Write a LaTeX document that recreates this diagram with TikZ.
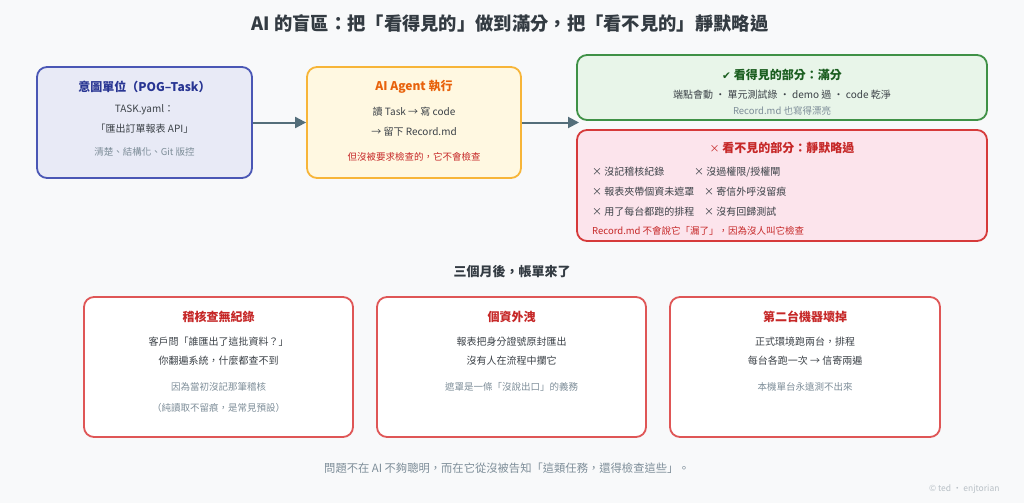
\documentclass[tikz,border=0pt]{standalone}
\usepackage{fontspec}
\setmainfont{Noto Sans CJK TC}
\newfontfamily\symfont{DejaVu Sans}
\usetikzlibrary{arrows.meta}
\definecolor{bg}{HTML}{F8F9FA}
\definecolor{ink}{HTML}{333B42}
\definecolor{body}{HTML}{3C4248}
\definecolor{sub}{HTML}{7E8E99}
\definecolor{indB}{HTML}{4A57B5}
\definecolor{indF}{HTML}{E8EAF6}
\definecolor{indT}{HTML}{283593}
\definecolor{ambB}{HTML}{F7B538}
\definecolor{ambF}{HTML}{FFF8E1}
\definecolor{ambT}{HTML}{E8620C}
\definecolor{grnB}{HTML}{3F9146}
\definecolor{grnF}{HTML}{E8F5E9}
\definecolor{grnT}{HTML}{1B5E20}
\definecolor{redB}{HTML}{D63A3A}
\definecolor{redF}{HTML}{FCE4EC}
\definecolor{redT}{HTML}{C62828}
\definecolor{redL}{HTML}{DF5656}
\definecolor{arr}{HTML}{546E7A}
\definecolor{copy}{HTML}{B8C0C6}
\newcommand\fsz[1]{\fontsize{#1}{#1}\selectfont}
\tikzset{
  box/.style={rounded corners=10pt, line width=1.8pt, inner sep=0pt},
  ttl/.style={font=\fsz{12}\bfseries},
  txt/.style={font=\fsz{10}, text=body, inner sep=0pt},
  subt/.style={font=\fsz{9.5}, text=sub, inner sep=0pt},
  conn/.style={draw=arr, line width=2pt, -{Triangle[length=11pt,width=11pt]}},
}
\begin{document}
\begin{tikzpicture}[x=1pt,y=-1pt]
\fill[bg] (0,0) rectangle (1024,503);
\useasboundingbox (0,0) rectangle (1024,503);

% title
\node[font=\fsz{18.3}\bfseries, text=ink] (title) at (510,23) {AI 的盲區：把「看得見的」做到滿分，把「看不見的」靜默略過};

% box 1
\node[box, draw=indB, fill=indF, minimum width=215pt, minimum height=111pt] (b1) at (144.5,122.5) {};
\node[ttl, text=indT] (b1t) at (144.5,87) {意圖單位（POG–Task）};
\node[txt] (b1a) at (144.5,110) {TASK.yaml：};
\node[txt] (b1b) at (144.5,129) {「匯出訂單報表 API」};
\node[subt] (b1c) at (144.5,152) {清楚、結構化、Git 版控};

% box 2
\node[box, draw=ambB, fill=ambF, minimum width=214pt, minimum height=111pt] (b2) at (414,122.5) {};
\node[ttl, text=ambT] (b2t) at (414,87) {AI Agent 執行};
\node[txt] (b2a) at (414,112) {讀 Task → 寫 code};
\node[txt] (b2b) at (414,132) {→ 留下 Record.md};
\node[subt, text=redT] (b2c) at (414,157) {但沒被要求檢查的，它不會檢查};

% green box
\node[box, draw=grnB, fill=grnF, minimum width=410pt, minimum height=65pt] (g) at (782,87.5) {};
\node[ttl, text=grnT] (gt) at (782,75) {{\symfont\fsz{10.5}✔} 看得見的部分：滿分};
\node[txt] (ga) at (782,95) {端點會動 · 單元測試綠 · demo 過 · code 乾淨};
\node[subt] (gb) at (782,111) {Record.md 也寫得漂亮};

% red box
\node[box, draw=redB, fill=redF, minimum width=410pt, minimum height=111pt] (r) at (782,185.5) {};
\node[ttl, text=redT] (rt) at (782,148) {{\mdseries\fsz{10}×} 看不見的部分：靜默略過};
\node[txt, anchor=west] (r1) at (592,172) {× 沒記稽核紀錄};
\node[txt, anchor=west] (r2) at (694,172) {× 沒過權限/授權閘};
\node[txt, anchor=west] (r3) at (592,192) {× 報表夾帶個資未遮罩};
\node[txt, anchor=west] (r4) at (704,192) {× 寄信外呼沒留痕};
\node[txt, anchor=west] (r5) at (592,212) {× 用了每台都跑的排程};
\node[txt, anchor=west] (r6) at (704,212) {× 沒有回歸測試};
\node[subt, text=redT, anchor=west] (r7) at (592,231) {Record.md 不會說它「漏了」，因為沒人叫它檢查};

% arrows
\coordinate (tip) at (579,122.5);
\draw[conn] (b1.east) -- (b2.west);
\draw[conn] (b2.east) -- (tip);

% middle heading
\node[font=\fsz{13}\bfseries, text=ink] (mid) at (512,272) {三個月後，帳單來了};

% bottom boxes
\node[box, draw=redL, fill=white, minimum width=269pt, minimum height=140pt] (c1) at (218.5,367) {};
\node[ttl, text=redT] (c1t) at (218.5,317) {稽核查無紀錄};
\node[txt] (c1a) at (218.5,342) {客戶問「誰匯出了這批資料？」};
\node[txt] (c1b) at (218.5,361) {你翻遍系統，什麼都查不到};
\node[subt] (c1c) at (218.5,387) {因為當初沒記那筆稽核};
\node[subt] (c1d) at (218.5,408) {（純讀取不留痕，是常見預設）};

\node[box, draw=redL, fill=white, minimum width=269pt, minimum height=140pt] (c2) at (511.5,367) {};
\node[ttl, text=redT] (c2t) at (511.5,317) {個資外洩};
\node[txt] (c2a) at (511.5,342) {報表把身分證號原封匯出};
\node[txt] (c2b) at (511.5,361) {沒有人在流程中攔它};
\node[subt] (c2c) at (511.5,387) {遮罩是一條「沒說出口」的義務};

\node[box, draw=redL, fill=white, minimum width=270pt, minimum height=140pt] (c3) at (805,367) {};
\node[ttl, text=redT] (c3t) at (805,317) {第二台機器壞掉};
\node[txt] (c3a) at (805,342) {正式環境跑兩台，排程};
\node[txt] (c3b) at (805,361) {每台各跑一次 → 信寄兩遍};
\node[subt] (c3c) at (805,387) {本機單台永遠測不出來};

% footer
\node[font=\fsz{11.3}, text=sub] (foot) at (507,468) {問題不在 AI 不夠聰明，而在它從沒被告知「這類任務，還得檢查這些」。};
\node[font=\fsz{8.5}, text=copy, anchor=east] (cr) at (1003,489) {© ted · enjtorian};
\end{tikzpicture}
\end{document}
